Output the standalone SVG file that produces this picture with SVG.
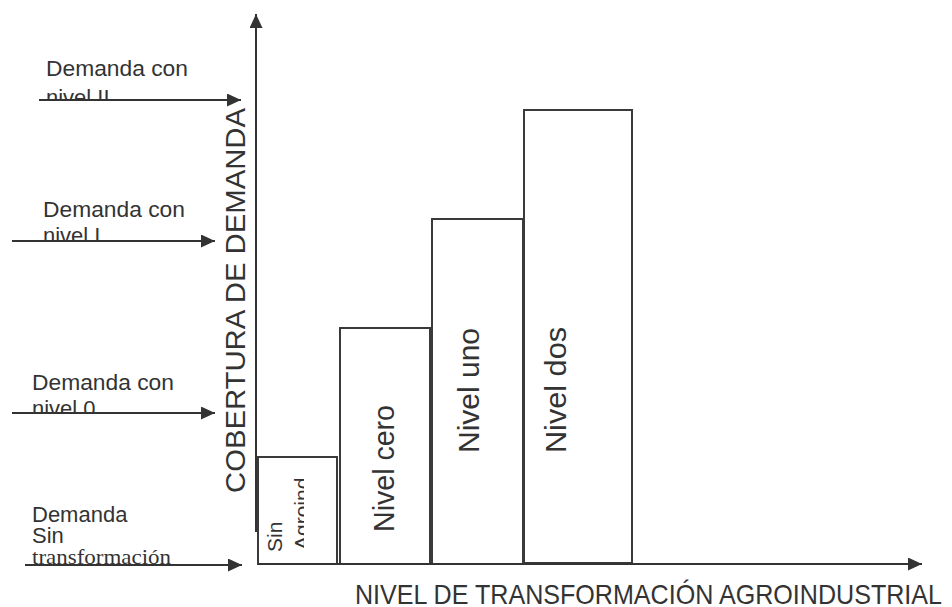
<svg xmlns="http://www.w3.org/2000/svg" width="952" height="607" viewBox="0 0 952 607">
<style>
.t{font-family:"Liberation Sans",Arial,sans-serif;fill:#333;}
.s{font-family:"Liberation Serif","Times New Roman",serif;fill:#333;}
.bar{fill:#fff;stroke:#3a3a3a;stroke-width:2;}
.ln{stroke:#333;stroke-width:2;fill:none;marker-end:url(#ah);}
</style>
<defs>
<marker id="ah" markerUnits="userSpaceOnUse" markerWidth="15" markerHeight="14" refX="14" refY="6.5" orient="auto">
<path d="M0,0 L14,6.5 L0,13 Z" fill="#333"/>
</marker>
<clipPath id="c2"><rect x="0" y="0" width="250" height="99"/></clipPath>
<clipPath id="c1"><rect x="0" y="150" width="250" height="90"/></clipPath>
<clipPath id="c0"><rect x="0" y="350" width="250" height="62"/></clipPath>
<clipPath id="cs"><rect x="0" y="480" width="250" height="84"/></clipPath>
<clipPath id="cb"><rect x="259" y="470" width="45" height="94"/></clipPath>
</defs>

<g id="bar-sin">
<rect class="bar" x="258" y="457" width="79" height="107"/>
<g clip-path="url(#cb)">
<text class="t" font-size="21" transform="translate(282,552) rotate(-90)">Sin</text>
<text class="t" font-size="21" transform="translate(309,550) rotate(-90)">Agroind</text>
</g>
</g>
<g id="bar-cero">
<rect class="bar" x="340" y="328" width="90" height="236"/>
<text class="t" font-size="29" transform="translate(394,532) rotate(-90)" textLength="127" lengthAdjust="spacingAndGlyphs">Nivel cero</text>
</g>
<g id="bar-uno">
<rect class="bar" x="432" y="219" width="91" height="345"/>
<text class="t" font-size="30" transform="translate(479,453) rotate(-90)" textLength="125" lengthAdjust="spacingAndGlyphs">Nivel uno</text>
</g>
<g id="bar-dos">
<rect class="bar" x="524" y="110" width="108" height="453"/>
<text class="t" font-size="30" transform="translate(566,453) rotate(-90)" textLength="126" lengthAdjust="spacingAndGlyphs">Nivel dos</text>
</g>

<g id="connectors">
<line class="ln" x1="256" y1="532" x2="256" y2="14"/>
<line class="ln" x1="258" y1="564" x2="922" y2="564"/>
<line class="ln" x1="39" y1="100" x2="241" y2="100"/>
<line class="ln" x1="12" y1="241" x2="215" y2="241"/>
<line class="ln" x1="12" y1="413" x2="215" y2="413"/>
<line class="ln" x1="25" y1="565" x2="242" y2="565"/>
</g>

<g id="label-nivel-ii">
<text class="t" font-size="22" x="46" y="76" textLength="142" lengthAdjust="spacingAndGlyphs">Demanda con</text>
<text class="t" font-size="22" x="46" y="105" clip-path="url(#c2)">nivel II</text>
</g>
<g id="label-nivel-i">
<text class="t" font-size="22" x="43" y="217" textLength="142" lengthAdjust="spacingAndGlyphs">Demanda con</text>
<text class="t" font-size="22" x="43" y="243" clip-path="url(#c1)">nivel I</text>
</g>
<g id="label-nivel-0">
<text class="t" font-size="22" x="32" y="390" textLength="142" lengthAdjust="spacingAndGlyphs">Demanda con</text>
<text class="t" font-size="22" x="32" y="416" clip-path="url(#c0)">nivel 0</text>
</g>
<g id="label-sin">
<text class="t" font-size="22" x="32" y="522">Demanda</text>
<text class="t" font-size="22" x="32" y="543">Sin</text>
<text class="s" font-size="22" x="32" y="564" clip-path="url(#cs)" textLength="139" lengthAdjust="spacingAndGlyphs">transformación</text>
</g>

<g id="axis-y-label">
<text class="t" font-size="27" transform="translate(245,493) rotate(-90)" textLength="385" lengthAdjust="spacingAndGlyphs">COBERTURA DE DEMANDA</text>
</g>
<g id="axis-x-label">
<text class="t" font-size="28" x="355" y="604" textLength="587" lengthAdjust="spacingAndGlyphs">NIVEL DE TRANSFORMACIÓN AGROINDUSTRIAL</text>
</g>
</svg>
